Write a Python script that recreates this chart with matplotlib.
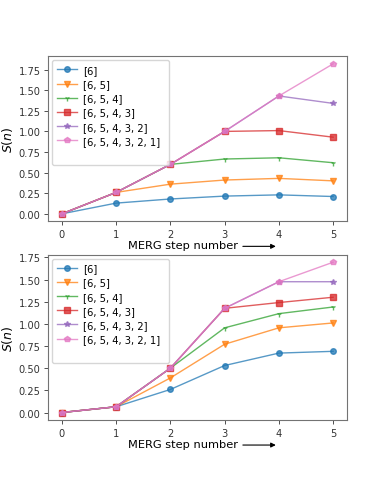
import matplotlib
matplotlib.use("Agg")
import matplotlib.pyplot as plt
from matplotlib.ticker import MultipleLocator

steps = [0, 1, 2, 3, 4, 5]
labels = ['[6]', '[6, 5]', '[6, 5, 4]', '[6, 5, 4, 3]', '[6, 5, 4, 3, 2]', '[6, 5, 4, 3, 2, 1]']

top_6 = [0.0, 0.13, 0.18, 0.215, 0.23, 0.21]
top_65 = [0.0, 0.26, 0.36, 0.41, 0.43, 0.40]
top_654 = [0.0, 0.26, 0.60, 0.665, 0.68, 0.62]
top_6543 = [0.0, 0.26, 0.60, 1.00, 1.01, 0.93]
top_65432 = [0.0, 0.26, 0.60, 1.00, 1.43, 1.34]
top_654321 = [0.0, 0.26, 0.60, 1.00, 1.43, 1.82]

bot_6 = [0.0, 0.065, 0.26, 0.53, 0.67, 0.69]
bot_65 = [0.0, 0.065, 0.39, 0.77, 0.955, 1.01]
bot_654 = [0.0, 0.065, 0.50, 0.955, 1.115, 1.19]
bot_6543 = [0.0, 0.065, 0.50, 1.175, 1.24, 1.30]
bot_65432 = [0.0, 0.065, 0.50, 1.175, 1.475, 1.475]
bot_654321 = [0.0, 0.065, 0.50, 1.175, 1.475, 1.695]

markers = ['o', 'v', '1', 's', '*', 'p']
colors = ['tab:blue', 'tab:orange', 'tab:green', 'tab:red', 'tab:purple', 'tab:pink']

fig = plt.figure(figsize=(3.85, 4.81), dpi=100)
ax1 = fig.add_axes([0.1255, 0.5378, 0.775, 0.343])
ax2 = fig.add_axes([0.1255, 0.1247, 0.775, 0.3437])

def draw(ax, series):
    for s, lab, m, c in zip(series, labels, markers, colors):
        ax.plot(steps, s, marker=m, color=c, label=lab, alpha=0.75,
                linewidth=1.0, markersize=4)
    # empty entry that pads out the legend box
    ax.plot([], [], linestyle='none', label=' ' * 26)
    ax.legend(loc='upper left', fontsize=7.2, handlelength=2.0,
              labelspacing=0.42, borderpad=0.45, handletextpad=0.6,
              borderaxespad=0.4, framealpha=0.8)
    ax.set_xticks(steps)
    ax.yaxis.set_major_locator(MultipleLocator(0.25))
    ax.tick_params(labelsize=7.1, length=3, width=0.6, colors='0.2', pad=2.5)
    for sp in ax.spines.values():
        sp.set_color('0.45')
        sp.set_linewidth(0.8)
    ax.set_ylabel('$S(n)$', fontsize=9, labelpad=3)
    lab = ax.set_xlabel('MERG step number', fontsize=8.2, labelpad=1)
    lab.set_x(0.451)
    ax.annotate('', xy=(1.37, 0.4), xytext=(1.02, 0.4), xycoords=lab,
                arrowprops=dict(arrowstyle='-|>', color='k', lw=0.8,
                                mutation_scale=7))

draw(ax1, [top_6, top_65, top_654, top_6543, top_65432, top_654321])
draw(ax2, [bot_6, bot_65, bot_654, bot_6543, bot_65432, bot_654321])

fig.savefig('out.png', dpi=100)
